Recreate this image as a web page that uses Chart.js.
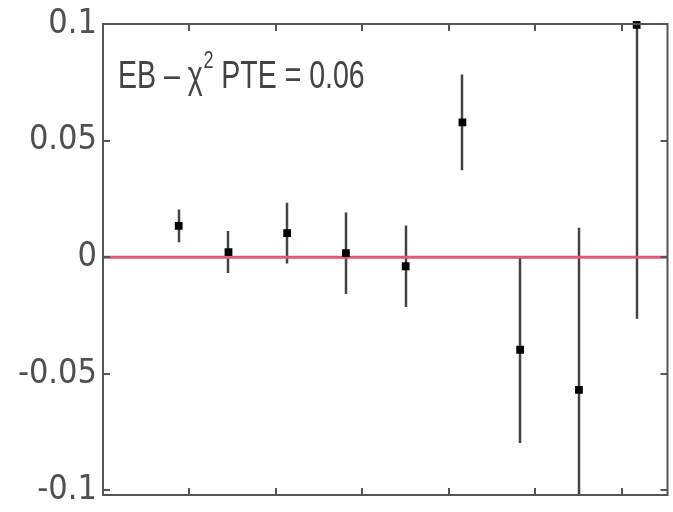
<!DOCTYPE html>
<html><head><meta charset="utf-8">
<script src="https://cdn.jsdelivr.net/npm/chart.js@4/dist/chart.umd.min.js"></script>
<style>html,body{margin:0;padding:0;background:#fff;}#wrap{width:673px;height:512px;}</style>
</head><body><div id="wrap"><canvas id="c" width="673" height="512"></canvas></div>
<script>
const binX = [0.876, 1.452, 2.131, 2.811, 3.502, 4.159, 4.827, 5.507, 6.175];
const values = [0.0134, 0.0022, 0.0103, 0.0017, -0.0039, 0.0578, -0.0397, -0.0569, 0.0996];
const errors = [0.007, 0.009, 0.013, 0.0175, 0.0175, 0.0205, 0.040, 0.0695, 0.126];
const yTicks = [-0.1, -0.05, 0, 0.05, 0.1];
const yTickLabels = ['-0.1', '-0.05', '0', '0.05', '0.1'];
const xTicks = [1, 2, 3, 4, 5, 6];
const annotation = ['EB \u2013 \u03C7', '2', ' PTE = 0.06'];
const xMax = 6.532;

const frameColor = '#555';
const errPlugin = {
  id: 'errbars',
  beforeDatasetsDraw(chart) {
    const {ctx, chartArea: a, scales: {x, y}} = chart;
    ctx.save();
    ctx.beginPath(); ctx.rect(a.left, a.top, a.right - a.left, a.bottom - a.top); ctx.clip();
    ctx.strokeStyle = '#444'; ctx.lineWidth = 2.5;
    binX.forEach((bx, i) => {
      const px = Math.round(x.getPixelForValue(bx));
      ctx.beginPath();
      ctx.moveTo(px, y.getPixelForValue(values[i] + errors[i]));
      ctx.lineTo(px, y.getPixelForValue(values[i] - errors[i]));
      ctx.stroke();
    });
    ctx.restore();
  },
  afterDraw(chart) {
    const {ctx, chartArea: a, scales: {x, y}} = chart;
    ctx.save();
    ctx.strokeStyle = frameColor; ctx.lineWidth = 2;
    ctx.strokeRect(a.left, a.top, a.right - a.left, a.bottom - a.top);
    const tl = 7;
    xTicks.forEach(v => {
      const px = Math.round(x.getPixelForValue(v));
      ctx.beginPath();
      ctx.moveTo(px, a.bottom); ctx.lineTo(px, a.bottom - tl);
      ctx.moveTo(px, a.top); ctx.lineTo(px, a.top + tl);
      ctx.stroke();
    });
    yTicks.forEach(v => {
      const py = Math.round(y.getPixelForValue(v));
      ctx.beginPath();
      ctx.moveTo(a.left, py); ctx.lineTo(a.left + tl, py);
      ctx.moveTo(a.right, py); ctx.lineTo(a.right - tl, py);
      ctx.stroke();
    });
    ctx.fillStyle = '#444';
    ctx.textBaseline = 'alphabetic';
    ctx.translate(a.left + 15, 88);
    ctx.scale(0.75, 1);
    ctx.font = '38px "Liberation Sans", Arial, sans-serif';
    let cx = 0;
    ctx.fillText(annotation[0], cx, 0); cx += ctx.measureText(annotation[0]).width + 1;
    ctx.font = '24px "Liberation Sans", Arial, sans-serif';
    ctx.fillText(annotation[1], cx, -20); cx += ctx.measureText(annotation[1]).width;
    ctx.font = '38px "Liberation Sans", Arial, sans-serif';
    ctx.fillText(annotation[2], cx, 0);
    ctx.restore();
  }
};

new Chart(document.getElementById('c'), {
  type: 'scatter',
  data: {
    datasets: [
      {
        data: binX.map((bx, i) => ({x: bx, y: values[i]})),
        pointStyle: 'rect', pointRadius: 5.5, pointHoverRadius: 5.5,
        backgroundColor: '#000', borderColor: '#000', borderWidth: 0,
        order: 1, clip: 4
      },
      {
        data: [{x: 0, y: 0}, {x: xMax, y: 0}],
        showLine: true, borderColor: 'rgb(228,86,118)', borderWidth: 3,
        pointRadius: 0, order: 2
      }
    ]
  },
  options: {
    responsive: false, animation: false,
    plugins: {legend: {display: false}, tooltip: {enabled: false}},
    layout: {padding: {top: 24, right: 3, bottom: 17, left: 0}},
    scales: {
      x: {type: 'linear', min: 0, max: xMax, display: false},
      y: {
        type: 'linear', min: -0.102, max: 0.1,
        afterBuildTicks(s) { s.ticks = yTicks.map(v => ({value: v})); },
        afterFit(s) { s.width = 103; s.paddingTop = 0; s.paddingBottom = 0; },
        grid: {display: false, drawTicks: false},
        border: {display: false},
        ticks: {
          padding: 6, color: '#505050',
          font: {family: '"Liberation Sans Narrow", "DejaVu Sans Condensed", "Arial Narrow", sans-serif', size: 34},
          callback(v) { const i = yTicks.indexOf(v); return i >= 0 ? yTickLabels[i] : ''; }
        }
      }
    }
  },
  plugins: [errPlugin]
});
</script></body></html>
